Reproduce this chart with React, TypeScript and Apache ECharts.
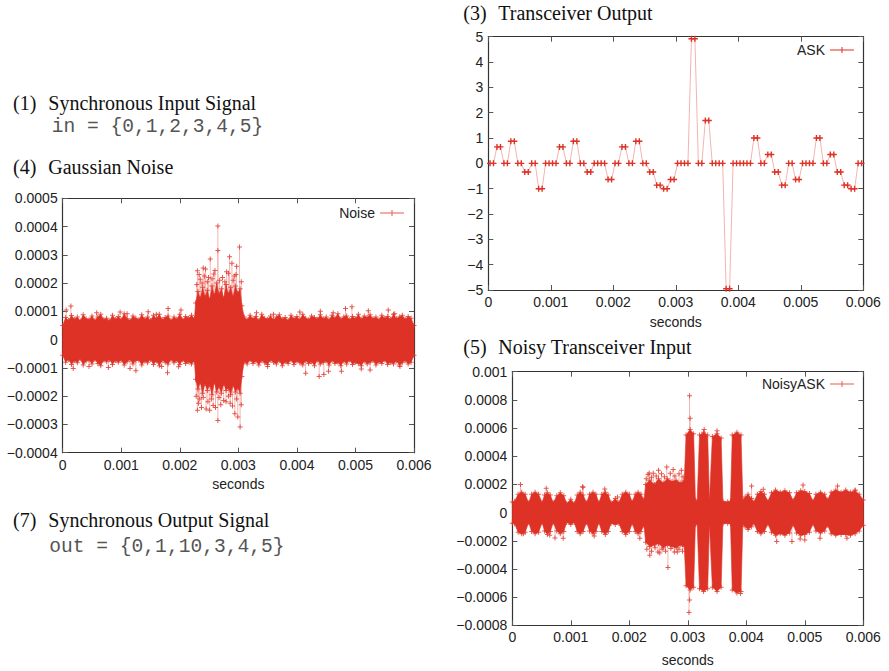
import React, { useEffect, useRef } from 'react';
import * as echarts from 'echarts';

// ---------- data ----------
const TIME_MIN = 0;
const TIME_MAX = 0.006;
const TIME_STEP = 0.001;

// (3) Transceiver Output: level of each ASK symbol (2 samples per symbol)
const ASK_LEVELS = [
  0, 0.65, 0, 0.87, 0, -0.34, 0, -1, 0, 0,
  0.65, 0, 0.87, 0, -0.34, 0, 0, -0.64, 0, 0.65,
  0, 0.87, 0, -0.34, -0.86, -1, -0.64, 0, 0, 4.92,
  0, 1.69, 0, 0, -4.95, 0, 0, 0, 1, 0,
  0.35, -0.34, -0.86, 0, -0.64, 0, 0, 1, 0, 0.35,
  -0.34, -0.86, -1, 0,
];
const ASK_SAMPLES_PER_SYMBOL = 2;
const ASK_SAMPLE_STEP = 0.006 / 108;

// noise amplitudes below are given in units of 1e-4
const UNIT = 1e-4;

// (4) Gaussian Noise: envelope of the dense band (time, upper, lower)
const NOISE_T = [
  0, 0.00005, 0.0001, 0.00015, 0.0002, 0.00025, 0.0003, 0.00035, 0.0004, 0.00045,
  0.0005, 0.00055, 0.0006, 0.00065, 0.0007, 0.00075, 0.0008, 0.00085, 0.0009, 0.00095,
  0.001, 0.00105, 0.0011, 0.00115, 0.0012, 0.00125, 0.0013, 0.00135, 0.0014, 0.00145,
  0.0015, 0.00155, 0.0016, 0.00165, 0.0017, 0.00175, 0.0018, 0.00185, 0.0019, 0.00195,
  0.002, 0.00205, 0.0021, 0.00215, 0.0022, 0.00225,
  0.00227, 0.00231, 0.00235, 0.00239, 0.00243, 0.00247, 0.00251, 0.00255, 0.00259, 0.00263,
  0.00267, 0.00271, 0.00275, 0.00279, 0.00283, 0.00287, 0.00291, 0.00295, 0.00299, 0.00303,
  0.00306,
  0.0031, 0.00315, 0.0032, 0.00325, 0.0033, 0.00335, 0.0034, 0.00345, 0.0035, 0.00355,
  0.0036, 0.00365, 0.0037, 0.00375, 0.0038, 0.00385, 0.0039, 0.00395, 0.004, 0.00405,
  0.0041, 0.00415, 0.0042, 0.00425, 0.0043, 0.00435, 0.0044, 0.00445, 0.0045, 0.00455,
  0.0046, 0.00465, 0.0047, 0.00475, 0.0048, 0.00485, 0.0049, 0.00495, 0.005, 0.00505,
  0.0051, 0.00515, 0.0052, 0.00525, 0.0053, 0.00535, 0.0054, 0.00545, 0.0055, 0.00555,
  0.0056, 0.00565, 0.0057, 0.00575, 0.0058, 0.00585, 0.0059, 0.00595, 0.006,
];
const NOISE_HI = [
  0.5, 0.78, 0.68, 0.85, 0.72, 0.8, 0.66, 0.88, 0.74, 0.7,
  0.84, 0.68, 0.8, 0.9, 0.7, 0.76, 0.66, 0.86, 0.72, 0.82,
  0.7, 0.92, 0.74, 0.68, 0.84, 0.76, 0.7, 0.88, 0.72, 0.8,
  0.68, 0.86, 0.74, 0.9, 0.7, 0.78, 0.84, 0.68, 0.8, 0.72,
  0.9, 0.7, 0.82, 0.76, 0.86, 0.74,
  1.3, 1.7, 1.45, 1.85, 1.5, 1.75, 1.4, 1.9, 1.55, 2.0,
  1.6, 1.8, 1.45, 1.95, 1.6, 1.85, 1.5, 1.9, 1.65, 1.8,
  1.2,
  0.8, 0.7, 0.86, 0.74, 0.82, 0.68, 0.9, 0.76, 0.72, 0.84,
  0.7, 0.8, 0.88, 0.72, 0.78, 0.68, 0.86, 0.74, 0.82, 0.7,
  0.9, 0.76, 0.7, 0.84, 0.78, 0.72, 0.88, 0.74, 0.8, 0.7,
  0.86, 0.76, 0.92, 0.72, 0.8, 0.84, 0.7, 0.82, 0.74, 0.9,
  0.72, 0.84, 0.78, 0.88, 0.74, 0.8, 0.7, 0.86, 0.76, 0.82,
  0.72, 0.9, 0.74, 0.8, 0.86, 0.72, 0.82, 0.76, 0.5,
];
const NOISE_LO = [
  -0.55, -0.8, -0.7, -0.88, -0.74, -0.82, -0.68, -0.9, -0.76, -0.72,
  -0.86, -0.7, -0.84, -0.92, -0.72, -0.78, -0.7, -0.88, -0.74, -0.8,
  -0.72, -0.9, -0.78, -0.7, -0.86, -0.74, -0.72, -0.9, -0.76, -0.82,
  -0.7, -0.88, -0.76, -0.92, -0.72, -0.8, -0.86, -0.7, -0.82, -0.74,
  -0.88, -0.72, -0.84, -0.78, -0.86, -0.76,
  -1.4, -1.75, -1.5, -1.9, -1.55, -1.8, -1.6, -1.95, -1.5, -1.85,
  -1.65, -1.9, -1.55, -1.8, -1.7, -1.95, -1.6, -1.85, -1.7, -1.9,
  -1.3,
  -0.78, -0.86, -0.72, -0.84, -0.76, -0.9, -0.74, -0.82, -0.88, -0.72,
  -0.8, -0.86, -0.74, -0.92, -0.78, -0.84, -0.72, -0.88, -0.76, -0.82,
  -0.9, -0.74, -0.84, -0.78, -0.92, -0.72, -0.86, -0.8, -0.76, -0.9,
  -0.74, -0.84, -0.8, -0.92, -0.76, -0.86, -0.72, -0.88, -0.8, -0.84,
  -0.92, -0.76, -0.86, -0.8, -0.74, -0.9, -0.78, -0.84, -0.72, -0.88,
  -0.8, -0.86, -0.76, -0.9, -0.82, -0.74, -0.86, -0.8, -0.55,
];
// isolated noise samples outside the band (time, value)
const NOISE_OUT_T = [
  0.00006, 0.00014, 0.00058, 0.00098, 0.0011, 0.00146, 0.0016, 0.0018, 0.00202,
  0.00018, 0.00045, 0.00078, 0.00115, 0.00125, 0.00169, 0.00179, 0.00198,
  0.0023, 0.00235, 0.0024, 0.00244, 0.00249, 0.00252, 0.00258, 0.00265, 0.00265, 0.00273, 0.0028, 0.00285, 0.00289, 0.00293, 0.00297, 0.00302,
  0.00229, 0.00233, 0.00238, 0.00242, 0.00247, 0.00255, 0.0026, 0.00268, 0.00277, 0.00283, 0.00291, 0.00296, 0.00305,
  0.0023, 0.00234, 0.00237, 0.00245, 0.00251, 0.00257, 0.00265, 0.0027, 0.00275, 0.00286, 0.00294, 0.00299, 0.00303,
  0.00228, 0.00232, 0.0024, 0.00248, 0.00254, 0.00261, 0.00267, 0.00279, 0.00283, 0.0029, 0.00297, 0.00305,
  0.00331, 0.0036, 0.00405, 0.0044, 0.00462, 0.00483, 0.00494, 0.00522, 0.00556, 0.00567,
  0.0035, 0.00415, 0.00438, 0.00446, 0.00454, 0.00476, 0.0051, 0.00525, 0.00576,
];
const NOISE_OUT_V = [
  1.05, 1.19, 0.95, 0.98, 0.92, 0.99, 0.9, 1.1, 1.05,
  -1.02, -0.95, -0.99, -1.02, -1.1, -0.95, -1.17, -0.96,
  2.44, 2.14, 2.53, 2.5, 2.2, 2.85, 2.32, 4.02, 3.15, 2.2, 2.4, 2.93, 2.7, 2.25, 2.6, 3.28,
  1.95, 2.3, 2.0, 2.25, 2.05, 2.15, 2.45, 2.1, 2.05, 2.35, 2.1, 2.3, 2.05,
  -2.5, -2.1, -2.4, -2.45, -2.5, -2.33, -2.86, -2.3, -2.15, -2.25, -2.62, -2.74, -3.09,
  -2.0, -2.25, -2.05, -2.2, -2.1, -2.4, -2.05, -2.2, -2.0, -2.35, -2.1, -2.3,
  0.95, 0.9, 0.98, 1.0, 0.95, 1.1, 1.16, 1.02, 1.05, 0.92,
  -0.95, -1.19, -1.3, -1.23, -1.12, -1.12, -1.04, -1.07, -0.95,
];

// (5) Noisy Transceiver Input: envelope of the dense band (time, upper, lower)
const NOISY_T = [
  0, 0.00004, 0.0001, 0.00016, 0.00022, 0.00028, 0.00033, 0.00039, 0.00045, 0.00051,
  0.00055, 0.0006, 0.00065, 0.0007, 0.00076, 0.00082, 0.00088, 0.00093, 0.001, 0.00106,
  0.00111, 0.00116, 0.00121, 0.00127, 0.00132, 0.00138, 0.00143, 0.00148, 0.00153, 0.00159,
  0.00164, 0.00169, 0.00176, 0.00182, 0.00188, 0.00194, 0.002, 0.00205, 0.0021, 0.00215,
  0.0022, 0.00225,
  0.00228, 0.00235, 0.00243, 0.0025, 0.00258, 0.00265, 0.00273, 0.0028, 0.00288, 0.00294,
  0.00297, 0.00304, 0.0031, 0.00313, 0.00316,
  0.0032, 0.00327, 0.00334, 0.00337,
  0.00342, 0.0035, 0.00357, 0.0036, 0.00368, 0.00373,
  0.00376, 0.00384, 0.00391, 0.00394,
  0.00398, 0.00403, 0.00409, 0.00413, 0.00419, 0.00425, 0.00431, 0.00437, 0.00443, 0.0045,
  0.00458, 0.00466, 0.00474, 0.0048, 0.00486, 0.00493, 0.005, 0.00508, 0.00514, 0.00519,
  0.00527, 0.00534, 0.00539, 0.00545, 0.00553, 0.00562, 0.0057, 0.00578, 0.00586, 0.00593,
  0.006,
];
const NOISY_HI = [
  0.75, 0.8, 1.3, 1.45, 1.3, 0.7, 1.3, 1.45, 1.3, 0.7,
  1.25, 1.4, 1.25, 0.7, 1.2, 1.4, 1.2, 0.65, 0.95, 0.65,
  1.25, 1.45, 1.25, 0.7, 1.3, 1.45, 1.3, 0.7, 1.3, 1.45,
  1.25, 0.7, 1.0, 0.7, 1.3, 1.45, 1.3, 0.75, 1.3, 1.45,
  1.3, 0.9,
  2.0, 2.3, 2.0, 2.4, 2.1, 2.4, 2.2, 2.3, 2.1, 2.3,
  5.5, 5.9, 5.6, 0.9, 0.8,
  5.5, 5.7, 5.5, 0.8,
  5.4, 5.6, 5.3, 0.8, 0.75, 0.8,
  5.5, 5.7, 5.5, 0.9,
  1.1, 1.3, 1.0, 0.75, 1.3, 1.5, 1.3, 0.8, 1.4, 1.6,
  1.45, 1.55, 1.4, 0.85, 1.4, 1.55, 1.5, 1.35, 0.8, 1.3,
  1.45, 1.3, 0.9, 1.45, 1.6, 1.45, 1.6, 1.45, 1.55, 1.3,
  0.9,
];
const NOISY_LO = [
  -0.75, -0.8, -1.4, -1.5, -1.4, -0.7, -1.35, -1.5, -1.4, -0.7,
  -1.3, -1.55, -1.35, -0.7, -1.3, -1.5, -1.35, -0.7, -0.85, -0.7,
  -1.35, -1.5, -1.35, -0.7, -1.3, -1.5, -1.35, -0.7, -1.35, -1.55,
  -1.35, -0.75, -0.85, -0.75, -1.35, -1.55, -1.35, -0.75, -1.35, -1.5,
  -1.35, -0.9,
  -2.1, -2.4, -2.3, -2.2, -2.5, -2.3, -2.4, -2.5, -2.3, -2.4,
  -5.2, -5.5, -5.3, -0.85, -0.8,
  -5.4, -5.6, -5.4, -0.8,
  -5.3, -5.6, -5.3, -0.8, -0.75, -0.8,
  -5.5, -5.7, -5.6, -0.85,
  -1.0, -1.2, -1.0, -0.75, -1.35, -1.5, -1.35, -0.8, -1.4, -1.6,
  -1.5, -1.6, -1.45, -0.85, -1.45, -1.6, -1.55, -1.4, -0.8, -1.3,
  -1.45, -1.3, -0.9, -1.5, -1.6, -1.55, -1.55, -1.6, -1.5, -1.3,
  -0.9,
];
const NOISY_OUT_T = [
  0.00014, 0.00058, 0.0012, 0.00121, 0.00158, 0.0018, 0.00019, 0.00064, 0.00073, 0.00087, 0.0014, 0.00218,
  0.00234, 0.0025, 0.00264, 0.00275, 0.00289, 0.00235, 0.00252, 0.00266, 0.00282,
  0.00229, 0.00232, 0.00238, 0.00241, 0.00246, 0.00255, 0.0026, 0.0027, 0.00278, 0.00285, 0.00292,
  0.0023, 0.00238, 0.00244, 0.00249, 0.00256, 0.00262, 0.00271, 0.00277, 0.00285, 0.00291,
  0.00303, 0.00304, 0.00328, 0.0035, 0.00303, 0.00302, 0.0039,
  0.00409, 0.00429, 0.00497, 0.00556, 0.00586, 0.00452, 0.00478, 0.00492, 0.005, 0.00526, 0.00572,
];
const NOISY_OUT_V = [
  2.0, 1.72, 1.84, 1.8, 1.68, 1.1, -1.5, -1.6, -1.8, -1.83, -1.66, -1.83,
  2.81, 3.0, 3.24, 3.05, 3.0, -3.03, -2.86, -3.9, -2.79,
  2.4, 2.7, 2.5, 2.8, 2.6, 2.75, 2.55, 2.8, 2.6, 2.75, 2.55,
  -2.6, -2.75, -2.5, -2.8, -2.6, -2.75, -2.55, -2.8, -2.6, -2.75,
  8.3, 6.7, 5.9, 5.8, -6.2, -7.1, -5.75,
  1.89, 1.65, 1.96, 1.89, 1.6, -2.06, -2.06, -1.87, -1.94, -1.83, -1.83,
];

// ---------- styling ----------
const RED = '#de3226';
const PINK = '#f3b4b0';
const AXIS_COLOR = '#333';
const SANS = '"Liberation Sans", Arial, sans-serif';
const SERIF = '"Liberation Serif", "Times New Roman", serif';
const MONO = '"Liberation Mono", "Courier New", monospace';
const CROSS = 'path://M0,2H5V3H0Z M2,0H3V5H2Z';
const CROSS_BOLD = 'path://M0,2.3H6V3.7H0Z M2.3,0H3.7V6H2.3Z';
const LEGEND_ICON = 'path://M0,3H24V4H0Z M11.5,0.5H12.5V6.5H11.5Z';

const fmt = (v: number) => String(+Number(v).toPrecision(10)).replace('-', '\u2212');

function makeAxes(gridIndex: number, yMin: number, yMax: number, yInt: number, nameGap: number) {
  const line = { show: true, onZero: false, lineStyle: { color: AXIS_COLOR, width: 1.2 } };
  const tick = { show: true, inside: true, length: 5, lineStyle: { color: '#555', width: 1 } };
  const label = { show: true, margin: 5, fontFamily: SANS, fontSize: 14, color: '#222', formatter: fmt };
  const xBase = { type: 'value', gridIndex, min: TIME_MIN, max: TIME_MAX, interval: TIME_STEP, splitLine: { show: false }, axisLine: line, axisTick: tick };
  const yBase = { type: 'value', gridIndex, min: yMin, max: yMax, interval: yInt, splitLine: { show: false }, axisLine: line, axisTick: tick };
  return {
    x: [
      { ...xBase, position: 'bottom', axisLabel: label, name: 'seconds', nameLocation: 'middle', nameGap, nameTextStyle: { fontFamily: SANS, fontSize: 14, color: '#222' } },
      { ...xBase, position: 'top', axisLabel: { show: false } },
    ],
    y: [
      { ...yBase, position: 'left', axisLabel: label },
      { ...yBase, position: 'right', axisLabel: { show: false } },
    ],
  };
}

// whole band drawn as one polygon through the axis scales
function bandSeries(t: number[], hi: number[], lo: number[], axisIndex: number) {
  return {
    type: 'custom',
    xAxisIndex: axisIndex,
    yAxisIndex: axisIndex,
    silent: true,
    data: [[t[0], hi[0] * UNIT]],
    renderItem: (_p: any, api: any) => {
      const top = t.map((ti, i) => api.coord([ti, hi[i] * UNIT]));
      const bottom = t.map((ti, i) => api.coord([ti, lo[i] * UNIT])).reverse();
      return { type: 'polygon', shape: { points: top.concat(bottom) }, style: { fill: RED, stroke: RED, lineWidth: 0.6 } };
    },
  };
}

function spikeSeries(t: number[], v: number[], axisIndex: number) {
  return {
    type: 'custom',
    xAxisIndex: axisIndex,
    yAxisIndex: axisIndex,
    silent: true,
    data: t.map((ti, i) => [ti, v[i] * UNIT]),
    renderItem: (_p: any, api: any) => {
      const a = api.coord([api.value(0), 0]);
      const b = api.coord([api.value(0), api.value(1)]);
      return { type: 'line', shape: { x1: a[0], y1: a[1], x2: b[0], y2: b[1] }, style: { stroke: PINK, lineWidth: 1 } };
    },
  };
}

function markerSeries(name: string, t: number[], hi: number[], lo: number[], ot: number[], ov: number[], axisIndex: number) {
  const data: number[][] = [];
  t.forEach((ti, i) => { data.push([ti, hi[i] * UNIT]); data.push([ti, lo[i] * UNIT]); });
  ot.forEach((ti, i) => data.push([ti, ov[i] * UNIT]));
  return {
    name,
    type: 'scatter',
    xAxisIndex: axisIndex,
    yAxisIndex: axisIndex,
    symbol: CROSS,
    symbolSize: 5,
    itemStyle: { color: RED },
    silent: true,
    data,
  };
}

function legendFor(name: string, right: number, top: number) {
  return {
    data: [name],
    right,
    top,
    padding: 0,
    align: 'right',
    icon: LEGEND_ICON,
    itemWidth: 24,
    itemHeight: 7,
    selectedMode: false,
    itemStyle: { color: RED },
    textStyle: { fontFamily: SANS, fontSize: 14, color: '#222' },
  };
}

function textEl(text: string, x: number, y: number, font: string, size: number, fill = '#111') {
  return { type: 'text', x, y, silent: true, style: { text, fontFamily: font, fontSize: size, fill, verticalAlign: 'middle', align: 'left' } };
}

export default function App() {
  const ref = useRef<HTMLDivElement>(null);

  useEffect(() => {
    if (!ref.current) return;
    const chart = echarts.init(ref.current, undefined, { renderer: 'svg' });

    const a0 = makeAxes(0, -0.0004, 0.0005, 0.0001, 24);
    const a1 = makeAxes(1, -5, 5, 1, 24.5);
    const a2 = makeAxes(2, -0.0008, 0.001, 0.0002, 27.5);

    const askData: number[][] = [];
    ASK_LEVELS.forEach((v, k) => {
      for (let j = 0; j < ASK_SAMPLES_PER_SYMBOL; j++) {
        askData.push([(k * ASK_SAMPLES_PER_SYMBOL + j + 0.5) * ASK_SAMPLE_STEP, v]);
      }
    });

    chart.setOption({
      animation: false,
      grid: [
        { left: 62.7, top: 198.3, width: 351.3, height: 254.4 },
        { left: 488.3, top: 36.7, width: 375, height: 253.3 },
        { left: 512.3, top: 371.7, width: 351, height: 253.6 },
      ],
      xAxis: [...a0.x, ...a1.x, ...a2.x],
      yAxis: [...a0.y, ...a1.y, ...a2.y],
      legend: [
        legendFor('Noise', 889 - 404, 206),
        legendFor('ASK', 889 - 854, 43),
        legendFor('NoisyASK', 889 - 854, 377),
      ],
      series: [
        // (4) noise
        spikeSeries(NOISE_OUT_T, NOISE_OUT_V, 0),
        bandSeries(NOISE_T, NOISE_HI, NOISE_LO, 0),
        markerSeries('Noise', NOISE_T, NOISE_HI, NOISE_LO, NOISE_OUT_T, NOISE_OUT_V, 0),
        // (3) ASK
        {
          name: 'ASK',
          type: 'line',
          xAxisIndex: 2,
          yAxisIndex: 2,
          data: askData,
          symbol: CROSS_BOLD,
          symbolSize: 6,
          showAllSymbol: true,
          lineStyle: { color: PINK, width: 1 },
          itemStyle: { color: RED },
          silent: true,
        },
        // (5) noisy ASK
        spikeSeries(NOISY_OUT_T, NOISY_OUT_V, 4),
        bandSeries(NOISY_T, NOISY_HI, NOISY_LO, 4),
        markerSeries('NoisyASK', NOISY_T, NOISY_HI, NOISY_LO, NOISY_OUT_T, NOISY_OUT_V, 4),
      ],
      graphic: [
        textEl('(1)', 13, 102.7, SERIF, 20),
        textEl('Synchronous Input Signal', 48.3, 102.7, SERIF, 20),
        textEl('in = {0,1,2,3,4,5}', 51.7, 126.7, MONO, 19.6, '#555'),
        textEl('(4)', 13, 167.3, SERIF, 20),
        textEl('Gaussian Noise', 48.3, 167.3, SERIF, 20),
        textEl('(7)', 13, 520, SERIF, 20),
        textEl('Synchronous Output Signal', 48.3, 520, SERIF, 20),
        textEl('out = {0,1,10,3,4,5}', 49.3, 546.7, MONO, 19.6, '#555'),
        textEl('(3)', 463.3, 12.7, SERIF, 20),
        textEl('Transceiver Output', 498.3, 12.7, SERIF, 20),
        textEl('(5)', 463.3, 346.7, SERIF, 20),
        textEl('Noisy Transceiver Input', 498.3, 346.7, SERIF, 20),
      ],
    });

    return () => chart.dispose();
  }, []);

  return <div ref={ref} style={{ position: 'absolute', left: 0, top: 0, width: 889, height: 671, background: '#fff' }} />;
}
